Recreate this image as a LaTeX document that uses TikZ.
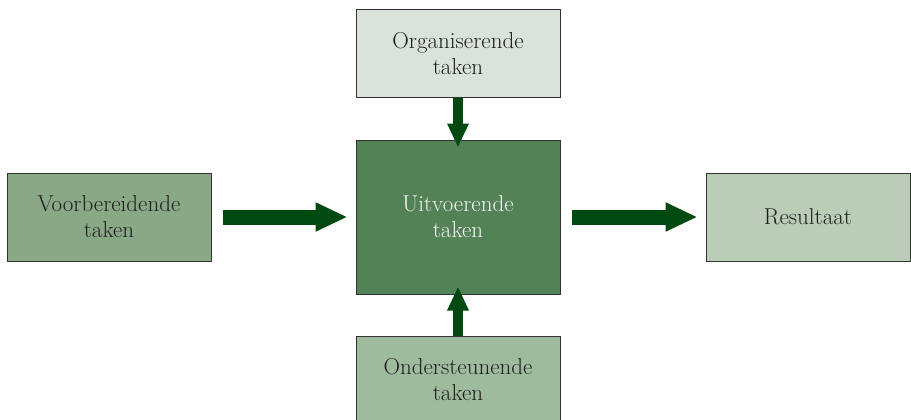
\documentclass[tikz,border=0pt]{standalone}
\usetikzlibrary{arrows.meta}
\definecolor{cTop}{HTML}{DAE3DA}
\definecolor{cMid}{HTML}{548257}
\definecolor{cLeft}{HTML}{88A886}
\definecolor{cRight}{HTML}{B9CDB7}
\definecolor{cBot}{HTML}{9FBB9D}
\definecolor{cArrow}{HTML}{004A12}
\definecolor{cBorder}{HTML}{333333}
\definecolor{cText}{HTML}{1E1E1E}
\begin{document}
\begin{tikzpicture}[x=1pt,y=-1pt,
  box/.style={draw=cBorder, line width=1pt, minimum width=204pt, minimum height=88pt,
    align=center, inner sep=0pt, font=\fontsize{23}{26}\selectfont, text=cText},
  bigarrow/.style={draw=cArrow, line width=15pt,
    -{Triangle[length=32pt,width=27pt]}},
  smallarrow/.style={draw=cArrow, line width=10pt,
    -{Triangle[length=24pt,width=20pt]}}]
\useasboundingbox (0,0) rectangle (911,420);
\fill[white] (0,0) rectangle (911,420);
\node[box, fill=cTop] (org) at (458,54) {Organiserende\\taken};
\node[box, fill=cMid, minimum height=154pt, text=white!96!black] (uit) at (458,217) {Uitvoerende\\taken};
\node[box, fill=cLeft] (voor) at (109,217) {Voorbereidende\\taken};
\node[box, fill=cRight] (res) at (808,217) {Resultaat};
\node[box, fill=cBot] (ond) at (458,380) {Ondersteunende\\taken};
\draw[bigarrow] ([xshift=11pt]voor.east) -- ([xshift=-8pt]uit.west);
\draw[bigarrow] ([xshift=11pt]uit.east) -- ([xshift=-8pt]res.west);
\draw[smallarrow] (org.south) -- ([yshift=-8pt]uit.north);
\draw[smallarrow] (ond.north) -- ([yshift=8pt]uit.south);
\end{tikzpicture}
\end{document}
